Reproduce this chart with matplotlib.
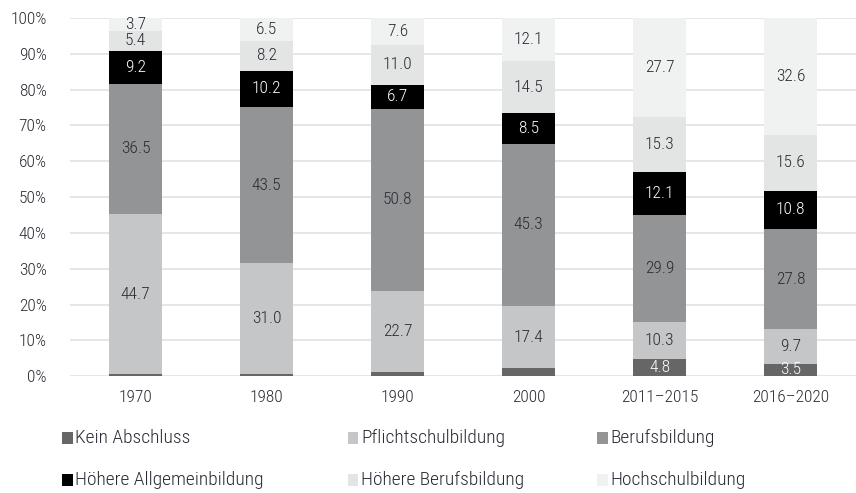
import numpy as np
import matplotlib.pyplot as plt
from matplotlib.patches import Rectangle
from matplotlib import font_manager

# data
categories = ['1970', '1980', '1990', '2000', '2011\u20132015', '2016\u20132020']
kein_abschluss = [0.5, 0.6, 1.2, 2.2, 4.8, 3.5]
pflichtschul = [44.7, 31.0, 22.7, 17.4, 10.3, 9.7]
berufsbildung = [36.5, 43.5, 50.8, 45.3, 29.9, 27.8]
hoehere_allg = [9.2, 10.2, 6.7, 8.5, 12.1, 10.8]
hoehere_beruf = [5.4, 8.2, 11.0, 14.5, 15.3, 15.6]
hochschul = [3.7, 6.5, 7.6, 12.1, 27.7, 32.6]

series_names = ['Kein Abschluss', 'Pflichtschulbildung', 'Berufsbildung',
                'Höhere Allgemeinbildung', 'Höhere Berufsbildung', 'Hochschulbildung']
series = [kein_abschluss, pflichtschul, berufsbildung, hoehere_allg, hoehere_beruf, hochschul]
colors = ['#666666', '#c5c6c8', '#939496', '#000000', '#e3e4e4', '#f0f1f1']
label_colors = ['white', '#2b2b35', '#2b2b35', 'white', '#2b2b35', '#2b2b35']

# font: pick a narrow one if any is installed
names = {f.name for f in font_manager.fontManager.ttflist}
font = 'DejaVu Sans'
for cand in ['Roboto Condensed', 'Open Sans Condensed', 'Liberation Sans Narrow', 'Roboto']:
    if cand in names:
        font = cand
        break
plt.rcParams['font.family'] = [font, 'DejaVu Sans']
plt.rcParams['font.weight'] = 'light'
txt = '#2b2b35'

fig = plt.figure(figsize=(8.56, 4.93), dpi=100)
ax = fig.add_axes([0.082, 0.237, 0.918, 0.7265])

x = np.arange(len(categories))
bottom = np.zeros(len(categories))
for vals, col, lc in zip(series, colors, label_colors):
    vals = np.array(vals)
    ax.bar(x, vals, bottom=bottom, width=0.4, color=col, zorder=3)
    for i, v in enumerate(vals):
        if v >= 2.5:
            ax.text(x[i], bottom[i] + v / 2, f'{v:.1f}', ha='center', va='center',
                    color=lc, fontsize=12.5, zorder=4)
    bottom += vals

ax.set_xlim(-0.5, len(categories) - 0.5)
ax.set_ylim(0, 100)
ax.set_yticks(np.arange(0, 101, 10))
ax.set_yticklabels([f'{t}%' for t in range(0, 101, 10)])
ax.set_xticks(x)
ax.set_xticklabels(categories)
ax.yaxis.grid(True, color='#e2e2e2', lw=1.2, zorder=0)
ax.tick_params(length=0, labelsize=12.5, colors=txt)
ax.tick_params(axis='y', pad=17)
ax.tick_params(axis='x', pad=10)
ax.spines[['right', 'top', 'left', 'bottom']].set_visible(False)

# legend
leg_x = [0.072, 0.406, 0.697]
leg_y = [0.112, 0.027]
for k, (name, col) in enumerate(zip(series_names, colors)):
    r, c = divmod(k, 3)
    fig.patches.append(Rectangle((leg_x[c], leg_y[r] - 0.012), 0.0128, 0.023,
                                 transform=fig.transFigure, facecolor=col, edgecolor='none'))
    fig.text(leg_x[c] + 0.016, leg_y[r], name, ha='left', va='center', fontsize=14, color=txt)

fig.savefig('out.png', dpi=100)
